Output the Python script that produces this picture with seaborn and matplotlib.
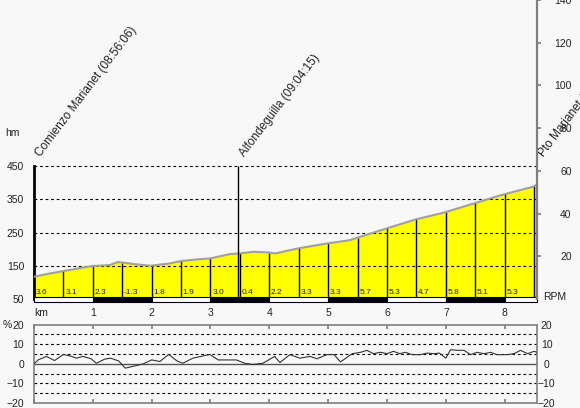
import matplotlib.pyplot as plt
import numpy as np
import pandas as pd
import seaborn as sns

# altitude profile (km, hm)
prof_km = [0.0, 0.27, 0.5, 0.98, 1.29, 1.42, 1.49, 1.75, 1.98, 2.31, 2.49, 2.77, 2.99, 3.2, 3.33,
           3.49, 3.73, 3.99, 4.1, 4.33, 4.48, 4.98, 5.37, 5.49, 5.99, 6.48, 6.97, 7.47, 7.97, 8.47, 8.55]
prof_alt = [117, 127, 134, 149, 152, 161, 160, 154, 150, 157, 164, 169, 172, 180, 185,
            187, 192, 190, 187, 196, 202, 217, 227, 234, 262, 289, 310, 337, 364, 387, 394]

# average slope of each 500 m stretch
seg_start = [0.0, 0.5, 1.0, 1.5, 2.0, 2.5, 3.0, 3.5, 4.0, 4.5, 5.0, 5.5, 6.0, 6.5, 7.0, 7.5, 8.0]
seg_slope = ['3.6', '3.1', '2.3', '-1.3', '1.8', '1.9', '3.0', '0.4', '2.2', '3.3', '3.3',
             '5.7', '5.3', '4.7', '5.8', '5.1', '5.3']

# waypoints
wp_km = [0.0, 3.47, 8.55]
wp_name = ['Comienzo Marianet (08:56:06)', 'Alfondeguilla (09:04:15)', 'Pto Marianet (09:22:41)']

# slope trace for lower panel (km, %)
grad_km = [0.0, 0.07, 0.21, 0.35, 0.5, 0.64, 0.72, 0.83, 0.97, 1.06, 1.2, 1.3, 1.44, 1.55, 1.72,
           1.86, 2.0, 2.14, 2.29, 2.43, 2.53, 2.7, 2.99, 3.13, 3.44, 3.58, 3.72, 3.89, 4.09, 4.18,
           4.35, 4.52, 4.69, 4.81, 4.98, 5.1, 5.21, 5.41, 5.55, 5.66, 5.77, 5.89, 6.0, 6.11, 6.22,
           6.31, 6.43, 6.57, 6.68, 6.8, 6.89, 7.0, 7.08, 7.2, 7.31, 7.42, 7.53, 7.65, 7.76, 7.87,
           8.05, 8.16, 8.27, 8.39, 8.5, 8.55]
grad_pct = [0.0, 2.0, 3.8, 1.7, 4.8, 3.8, 2.9, 3.8, 2.6, 0.3, 2.4, 2.9, 1.5, -2.2, -1.0,
            0.0, 2.0, 1.2, 4.8, 1.5, 0.3, 2.9, 4.8, 2.0, 2.0, 0.3, -0.3, 0.3, 3.8, 0.7,
            4.7, 2.9, 3.8, 2.6, 4.7, 4.7, 1.0, 5.2, 5.9, 6.9, 5.2, 5.9, 5.2, 6.4, 5.2,
            5.9, 4.7, 4.7, 5.5, 5.2, 5.5, 2.9, 7.2, 6.9, 6.9, 4.7, 5.9, 5.2, 5.9, 4.7,
            4.7, 5.2, 6.9, 5.2, 6.4, 5.9]

km_ticks = [0, 1, 2, 3, 4, 5, 6, 7, 8]
km_labels = ['km', '1', '2', '3', '4', '5', '6', '7', '8']

km_end = 8.55
bg = '#f8f8f8'

sns.set_theme(style='white')
plt.rcParams['font.family'] = ['Liberation Sans', 'DejaVu Sans']
plt.rcParams['text.color'] = '#222222'
plt.rcParams['xtick.color'] = '#222222'
plt.rcParams['ytick.color'] = '#222222'

fig = plt.figure(figsize=(5.8, 4.08), dpi=100, facecolor=bg)

# ---- upper panel: altitude profile
ax = fig.add_axes([34 / 580, 1 - 299 / 408, 503 / 580, 299 / 408])
ax.set_facecolor(bg)
ax.set_xlim(0, km_end)
ax.set_ylim(50, 50 + 299 * 3.008)
for s in ['top', 'bottom', 'right']:
    ax.spines[s].set_visible(False)
ax.spines['left'].set_bounds(50, 450)
ax.spines['left'].set_color('black')
ax.spines['left'].set_linewidth(2)
ax.set_xticks([])
ax.set_yticks([50, 150, 250, 350, 450])
ax.tick_params(axis='y', length=0, pad=7, labelsize=7.5)

ax.fill_between(prof_km, 50, prof_alt, color='#ffff00', lw=0, zorder=2)
sns.lineplot(x=prof_km, y=prof_alt, ax=ax, color='#a0a0a0', lw=1.5, zorder=4)
for v in [150, 250, 350, 450]:
    ax.axhline(v, color='black', lw=0.8, ls=(0, (2.5, 2.5)), zorder=3)

# stretch separators and slope labels
bounds = seg_start[1:] + [8.5]
ax.vlines(bounds, 50, np.interp(bounds, prof_km, prof_alt), color='black', lw=1, zorder=3)
for x, t in zip(seg_start, seg_slope):
    ax.text(x + 0.03, 71, t, fontsize=6, va='center', ha='left', zorder=5)

# waypoint markers
ax.vlines(wp_km[1], 50, 450, color='black', lw=1, zorder=5)
ax.vlines(wp_km[2], np.interp(wp_km[2], prof_km, prof_alt), 450, color='black', lw=2, zorder=5)
for x, name in zip(wp_km, wp_name):
    ax.text(x + 0.15, 470, name, rotation=53, rotation_mode='anchor', ha='left', va='bottom',
            fontsize=8.5, clip_on=False, zorder=6)

# km bands
band_left = [0, 1, 2, 3, 4, 5, 6, 7, 8]
band_w = [1, 1, 1, 1, 1, 1, 1, 1, km_end - 8]
band_col = ['white' if i % 2 == 0 else 'black' for i in range(len(band_left))]
ax.bar(band_left, [15] * len(band_left), width=band_w, bottom=42, align='edge',
       color=band_col, edgecolor='black', lw=0.8, clip_on=False, zorder=6)

# right RPM scale
axr = ax.twinx()
axr.set_ylim(0, 140)
for s in ['top', 'bottom', 'left']:
    axr.spines[s].set_visible(False)
axr.spines['right'].set_color('#808080')
axr.spines['right'].set_linewidth(1.6)
axr.set_yticks([20, 40, 60, 80, 100, 120, 140])
axr.tick_params(axis='y', length=3, color='#808080', pad=22, labelsize=7.5)
for lab in axr.get_yticklabels():
    lab.set_horizontalalignment('right')

fig.text(5 / 580, 1 - 133 / 408, 'hm', fontsize=7.5, va='center')
fig.text(543 / 580, 1 - 297 / 408, 'RPM', fontsize=7.5, va='center')

# ---- lower panel: slope
ax2 = fig.add_axes([34 / 580, 1 - 403 / 408, 503 / 580, 78.3 / 408])
ax2.set_facecolor(bg)
ax2.set_xlim(0, km_end)
ax2.set_ylim(-20, 20)
for s in ax2.spines.values():
    s.set_color('#808080')
    s.set_linewidth(1.2)
for v in [-15, -10, -5, 5, 10, 15]:
    ax2.axhline(v, color='black', lw=0.8, ls=(0, (2.5, 2.5)), zorder=1)
ax2.axhline(0, color='#555555', lw=1, zorder=1)
sns.lineplot(x=grad_km, y=grad_pct, ax=ax2, color='#333333', lw=0.8, zorder=3)

ax2.set_xticks(km_ticks)
ax2.set_xticklabels(km_labels)
ax2.tick_params(axis='x', direction='in', length=3, color='#808080', top=True, bottom=True,
                labeltop=True, labelbottom=False, labelsize=7.5, pad=5)
for t in ax2.xaxis.get_major_ticks()[:1]:
    t.label2.set_horizontalalignment('left')
ax2.set_xlabel('')
ax2.set_yticks([-20, -10, 0, 10, 20])
ax2.tick_params(axis='y', length=0, pad=7, labelsize=7.5, right=True, labelright=True)
for t in ax2.yaxis.get_major_ticks():
    t.label2.set_horizontalalignment('center')
fig.text(3 / 580, 1 - 325 / 408, '%', fontsize=7.5, va='center')

fig.savefig('out.png', dpi=100, facecolor=bg)
